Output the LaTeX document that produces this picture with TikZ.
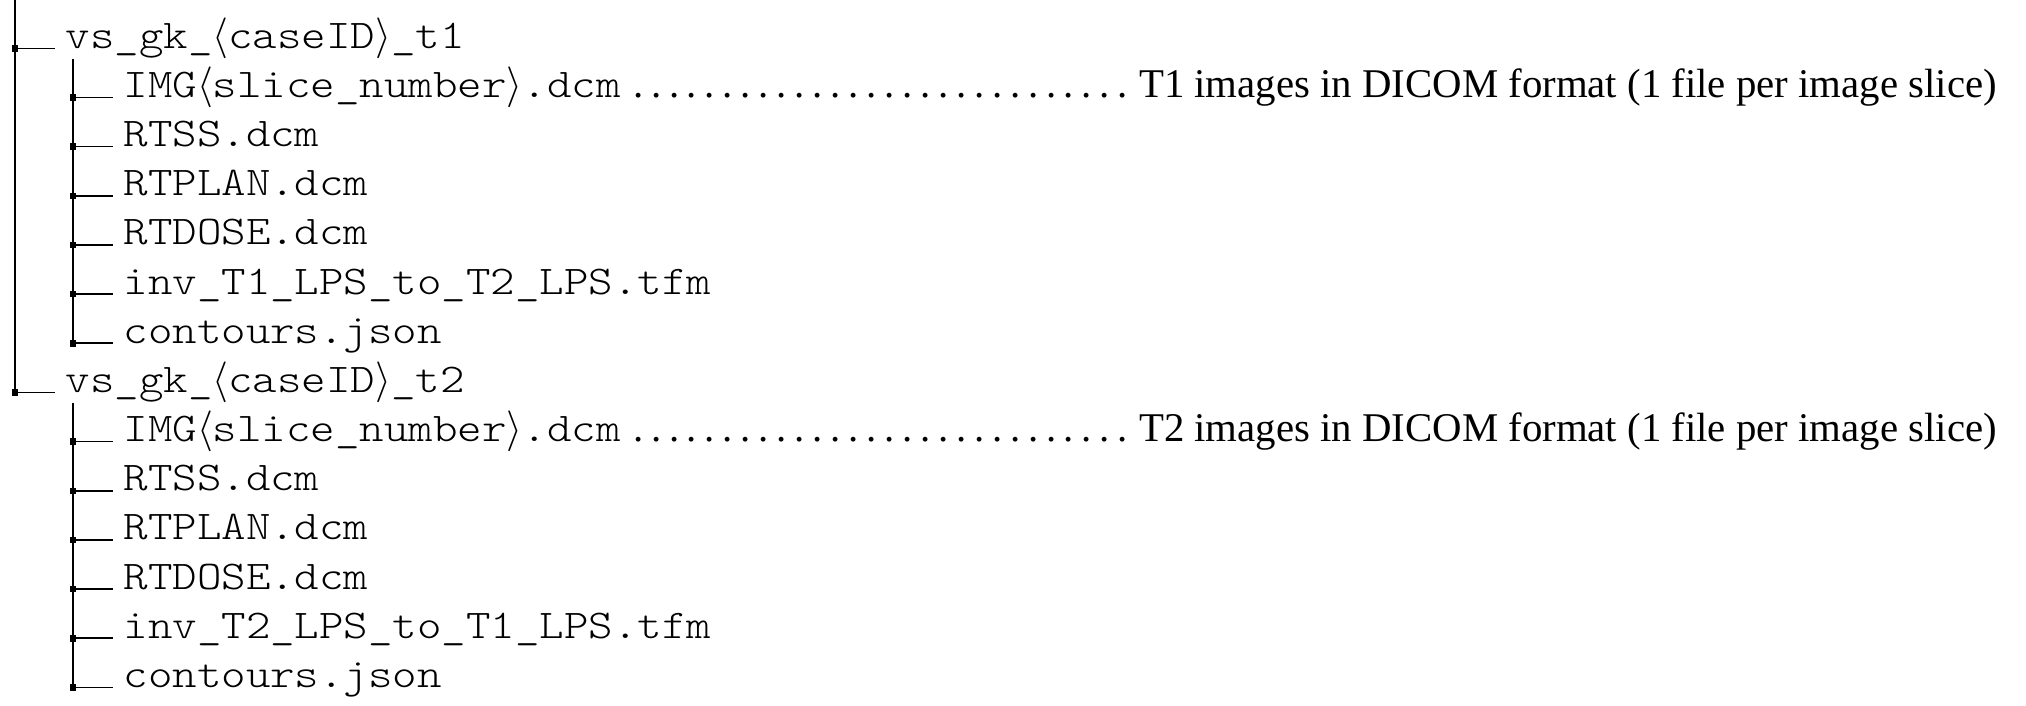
\documentclass[tikz,border=0pt]{standalone}
\usepackage{fontspec}
\setmainfont{Liberation Serif}
\setmonofont{Latin Modern Mono Light}[FakeStretch=1.143]
\usetikzlibrary{calc}

\tikzset{
  entry/.style={anchor=base west, inner xsep=2.4pt, inner ysep=0pt, font=\ttfamily},
  junc/.style={fill, inner sep=0pt, minimum size=1.6pt},
  note/.style={anchor=base west, inner sep=0pt},
}
\newcommand{\ang}[1]{$\langle$#1$\rangle$}

\begin{document}
\begin{tikzpicture}[x=1pt,y=-1pt,line width=0.4pt]
        \useasboundingbox (0,0) rectangle (496.6,173.05);

        % Pierwszy katalog (t1)
        \node[entry] (t1) at (13.5,11.85) {vs\_gk\_\ang{caseID}\_t1};
        \node[entry] (img1) at (27.7,23.9) {IMG\ang{slice\_number}.dcm};
        \node[entry] (rtss1) at (27.7,35.95) {RTSS.dcm};
        \node[entry] (plan1) at (27.7,48.0) {RTPLAN.dcm};
        \node[entry] (dose1) at (27.7,60.05) {RTDOSE.dcm};
        \node[entry] (tfm1) at (27.7,72.1) {inv\_T1\_LPS\_to\_T2\_LPS.tfm};
        \node[entry] (json1) at (27.7,84.15) {contours.json};
        \node[note] (note1) at (279,23.9) {T1 images in DICOM format (1 file per image slice)};
        \path let \p1=([xshift=-2.4pt]img1.base east), \p2=(note1.base west) in
          node[note] (dots1) at (\p1) {\makebox[\dimexpr\x2-\x1\relax]{\dotfill}};

        % Drugi katalog (t2)
        \node[entry] (t2) at (13.5,96.2) {vs\_gk\_\ang{caseID}\_t2};
        \node[entry] (img2) at (27.7,108.25) {IMG\ang{slice\_number}.dcm};
        \node[entry] (rtss2) at (27.7,120.3) {RTSS.dcm};
        \node[entry] (plan2) at (27.7,132.35) {RTPLAN.dcm};
        \node[entry] (dose2) at (27.7,144.4) {RTDOSE.dcm};
        \node[entry] (tfm2) at (27.7,156.45) {inv\_T2\_LPS\_to\_T1\_LPS.tfm};
        \node[entry] (json2) at (27.7,168.5) {contours.json};
        \node[note] (note2) at (279,108.25) {T2 images in DICOM format (1 file per image slice)};
        \path let \p1=([xshift=-2.4pt]img2.base east), \p2=(note2.base west) in
          node[note] (dots2) at (\p1) {\makebox[\dimexpr\x2-\x1\relax]{\dotfill}};

        % Węzły na liniach pionowych
        \node[junc] (t1j) at (3.68,11.85) {};
        \node[junc] (t2j) at (3.68,96.2) {};
        \node[junc] (img1j) at (17.9,23.9) {};
        \node[junc] (rtss1j) at (17.9,35.95) {};
        \node[junc] (plan1j) at (17.9,48.0) {};
        \node[junc] (dose1j) at (17.9,60.05) {};
        \node[junc] (tfm1j) at (17.9,72.1) {};
        \node[junc] (json1j) at (17.9,84.15) {};
        \node[junc] (img2j) at (17.9,108.25) {};
        \node[junc] (rtss2j) at (17.9,120.3) {};
        \node[junc] (plan2j) at (17.9,132.35) {};
        \node[junc] (dose2j) at (17.9,144.4) {};
        \node[junc] (tfm2j) at (17.9,156.45) {};
        \node[junc] (json2j) at (17.9,168.5) {};

        % Linie pionowe
        \coordinate (top) at (3.68,0);
        \coordinate (t1sub) at (17.9,14.55);
        \coordinate (t2sub) at (17.9,98.9);
        \draw (top) -- (t2j.center);
        \draw (t1sub) -- (json1j.center);
        \draw (t2sub) -- (json2j.center);

        % Poziome odnogi
        \draw (t1j.center) -- (t1.base west);
        \draw (t2j.center) -- (t2.base west);
        \draw (img1j.center) -- (img1.base west);
        \draw (rtss1j.center) -- (rtss1.base west);
        \draw (plan1j.center) -- (plan1.base west);
        \draw (dose1j.center) -- (dose1.base west);
        \draw (tfm1j.center) -- (tfm1.base west);
        \draw (json1j.center) -- (json1.base west);
        \draw (img2j.center) -- (img2.base west);
        \draw (rtss2j.center) -- (rtss2.base west);
        \draw (plan2j.center) -- (plan2.base west);
        \draw (dose2j.center) -- (dose2.base west);
        \draw (tfm2j.center) -- (tfm2.base west);
        \draw (json2j.center) -- (json2.base west);
    \end{tikzpicture}
\end{document}
